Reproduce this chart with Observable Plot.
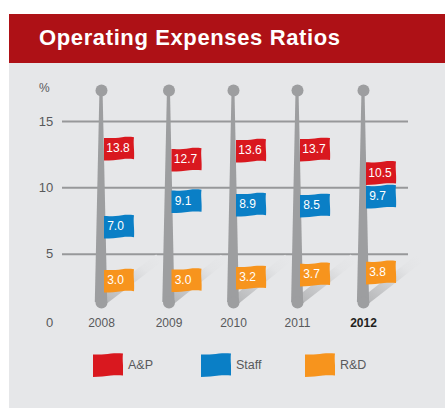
<!DOCTYPE html>
<html>
<head>
<meta charset="utf-8">
<script src="https://cdn.jsdelivr.net/npm/d3@7"></script>
<script src="https://cdn.jsdelivr.net/npm/@observablehq/plot@0.6"></script>
<style>
html,body{margin:0;padding:0;background:#fff;font-family:"Liberation Sans",Arial,sans-serif}
#page{position:relative;width:445px;height:408px;padding-top:14px;box-sizing:border-box;overflow:hidden}
#head{margin-left:9px;height:49px;background:#ae1116;color:#fff;font:bold 22px "Liberation Sans",Arial,sans-serif;line-height:47px;padding-left:30px;letter-spacing:0.62px;box-sizing:border-box}
#chart{margin-left:9px;background:#e6e7e9;height:277px}
#chart svg{display:block}
#legend{margin-left:9px;height:68px;background:#e6e7e9;position:relative}
.item{position:absolute;top:13px;height:24px;display:flex;align-items:center;font-size:12.5px;color:#58595b}
.item svg{display:block;margin-right:5px}
</style>
</head>
<body>
<div id="page">
<div id="head">Operating Expenses Ratios</div>
<div id="chart"></div>
<div id="legend"></div>
</div>
<script>
const title = "Operating Expenses Ratios";
const years = [2008, 2009, 2010, 2011, 2012];
const series = ["A&P", "Staff", "R&D"];
const seriesColors = ["#d9181f", "#0a7fc6", "#f7941d"];
const yTicks = [5, 10, 15];

// printed values
const apValues = [13.8, 12.7, 13.6, 13.7, 10.5];
const staffValues = [7.0, 9.1, 8.9, 8.5, 9.7];
const rdValues = [3.0, 3.0, 3.2, 3.7, 3.8];

// height at which each flag hangs on the axis
const apLevels = [12.96, 12.13, 12.81, 12.89, 11.12];
const staffLevels = [7.08, 9.0, 8.74, 8.67, 9.34];
const rdLevels = [3.01, 3.05, 3.24, 3.47, 3.62];

const poleBase = 1.36, poleTop = 17.33;

const flags = [[apValues, apLevels], [staffValues, staffLevels], [rdValues, rdLevels]]
  .flatMap(([vals, lvls], s) => years.map((year, i) => ({year, value: vals[i], level: lvls[i], series: series[s], color: seriesColors[s]})));

const flagShape = {
  draw(c) {
    c.moveTo(-15, -10.6);
    c.bezierCurveTo(-8, -10.2, -3, -10.6, 3, -11.4);
    c.bezierCurveTo(7, -12, 11, -12, 15, -11.4);
    c.bezierCurveTo(14, -5, 15.8, 3, 15, 10.6);
    c.bezierCurveTo(11, 10.2, 7, 10.2, 3, 10.6);
    c.bezierCurveTo(-3, 11.4, -8, 12, -15, 12);
    c.closePath();
  }
};

const poles = years.flatMap(year => [
  {year, y: poleBase, half: 0.092},
  {year, y: poleTop, half: 0.023}
]);

const gradient = () => {
  const defs = d3.create("svg:defs");
  const g = defs.append("linearGradient").attr("id", "shade")
    .attr("x1", 0).attr("y1", 1).attr("x2", 1).attr("y2", 0);
  g.append("stop").attr("offset", 0).attr("stop-color", "#b4b5b7");
  g.append("stop").attr("offset", 0.75).attr("stop-color", "#e3e4e6");
  g.append("stop").attr("offset", 1).attr("stop-color", "#e6e7e9");
  return defs.node();
};

const textStyle = {fontSize: 12, fill: "#58595b"};

const plot = Plot.plot({
  width: 436, height: 277,
  marginLeft: 53, marginRight: 37, marginTop: 0, marginBottom: 0,
  style: {background: "transparent", fontFamily: "'Liberation Sans',Arial,sans-serif", overflow: "visible"},
  x: {domain: years, type: "linear", range: [92, 159.5, 224, 288, 354], axis: null},
  y: {domain: [0, 15], range: [257, 58], axis: null},
  marks: [
    gradient,
    Plot.ruleY(yTicks, {stroke: "#97989a", strokeWidth: 2}),
    Plot.link(years, {x1: d => d, y1: 1.4, x2: d => d + 0.85, y2: 4.7, stroke: "url(#shade)", strokeWidth: 9}),
    Plot.areaX(poles, {x1: d => d.year - d.half, x2: d => d.year + d.half, y: "y", z: "year", fill: "#9d9ea0"}),
    Plot.dot(years, {x: d => d, y: poleBase, r: 6, fill: "#9d9ea0"}),
    Plot.dot(years, {x: d => d, y: poleTop, r: 6, fill: "#9d9ea0"}),
    Plot.dot(flags, {x: "year", y: "level", dx: 17.5, symbol: flagShape, r: 10, fill: "color"}),
    Plot.text(flags.filter(d => d.series === "A&P"), {x: "year", y: "level", dx: 16.5, text: d => d.value.toFixed(1), fill: "#fff", fontSize: 12}),
    Plot.text(flags.filter(d => d.series !== "A&P"), {x: "year", y: "level", dx: 14, text: d => d.value.toFixed(1), fill: "#fff", fontSize: 12}),
    Plot.text(yTicks, {y: d => d, frameAnchor: "left", dx: -9.3, textAnchor: "end", text: d => String(d), fontSize: 13, fill: "#58595b"}),
    Plot.text([0], {y: d => d, dy: 2.6, frameAnchor: "left", dx: -9.3, textAnchor: "end", text: d => String(d), fontSize: 13, fill: "#58595b"}),
    Plot.text(["%"], {y: 17.55, frameAnchor: "left", dx: -23.5, textAnchor: "start", text: d => d, ...textStyle}),
    Plot.text(years.slice(0, 4), {x: d => d, y: 0, dy: 2.6, text: d => String(d), ...textStyle}),
    Plot.text(years.slice(4), {x: d => d, y: 0, dy: 2.6, text: d => String(d), fontSize: 12, fontWeight: "bold", fill: "#231f20"})
  ]
});
document.getElementById("chart").append(plot);

const legendLeft = [84, 192, 296];
const legend = d3.select("#legend");
series.forEach((name, i) => {
  const item = legend.append("div").attr("class", "item").style("left", legendLeft[i] + "px");
  const path = d3.path();
  flagShape.draw(path);
  const svg = item.append("svg").attr("width", 30).attr("height", 24).attr("viewBox", "-15 -12 30 24");
  svg.append("path").attr("d", path.toString()).attr("fill", seriesColors[i]);
  item.append("span").text(name);
});
</script>
</body>
</html>
